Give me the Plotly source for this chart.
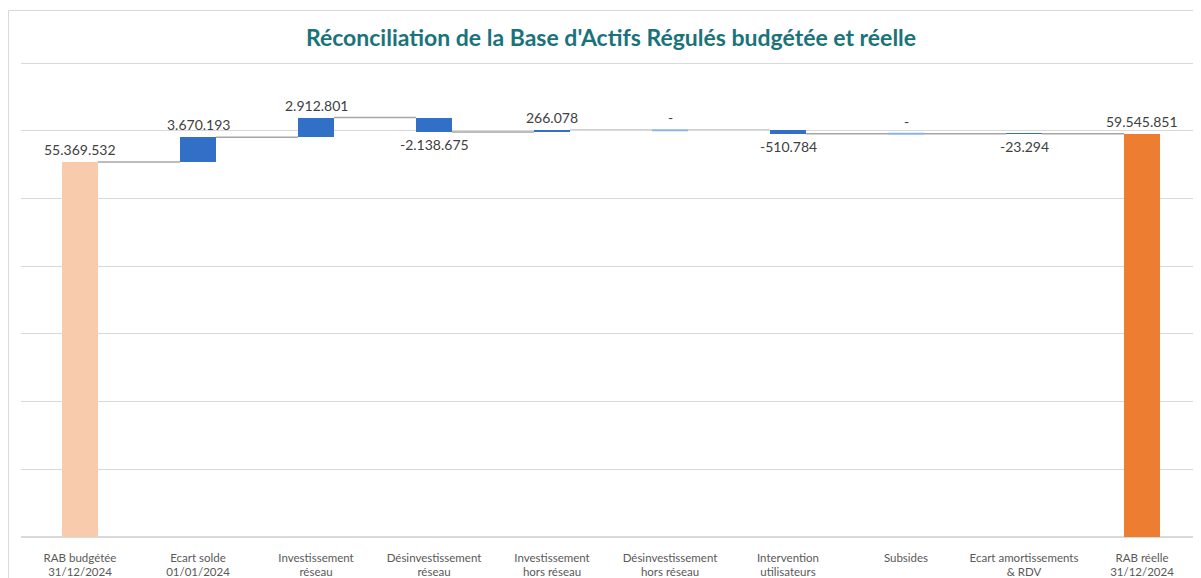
import plotly.graph_objects as go

categories = [
    "RAB budgétée<br>31/12/2024",
    "Ecart solde<br>01/01/2024",
    "Investissement<br>réseau",
    "Désinvestissement<br>réseau",
    "Investissement<br>hors réseau",
    "Désinvestissement<br>hors réseau",
    "Intervention<br>utilisateurs",
    "Subsides",
    "Ecart amortissements<br>& RDV",
    "RAB réelle<br>31/12/2024",
]
measures = ["absolute", "relative", "relative", "relative", "relative",
            "relative", "relative", "relative", "relative", "total"]
values = [55369532, 3670193, 2912801, -2138675, 266078, 0, -510784, 0, -23294, 59545851]

BLUE = "#3170C6"
LIGHTBLUE = "#8DB3E2"
PEACH = "#F8CBAD"
ORANGE = "#ED7D31"
GRID = "#D9D9D9"
CONN = "#A6A6A6"
TXT = "#404040"


def fmt(v):
    if v == 0:
        return "-"
    s = f"{abs(v):,}".replace(",", ".")
    return ("-" if v < 0 else "") + s


bases, heights, ends = [], [], []
running = 0
for m, v in zip(measures, values):
    if m == "absolute":
        bases.append(0); heights.append(v); running = v
    elif m == "total":
        bases.append(0); heights.append(running)
    else:
        bases.append(running); heights.append(v); running += v
    ends.append(running)

colors = [PEACH if m == "absolute" else ORANGE if m == "total" else BLUE for m in measures]

xs = list(range(len(categories)))
W = 0.305

# figure geometry (page body has an 8px margin)
FW, FH = 1193, 570
ML, MR, MT, MB = 13, 0, 54, 41
PW, PH = FW - ML - MR, FH - MT - MB

fig = go.Figure()
fig.add_trace(go.Bar(x=xs, y=heights, base=bases, width=W,
                     marker=dict(color=colors, line=dict(width=0)),
                     hoverinfo="skip", showlegend=False))

for i in range(len(xs) - 1):
    lvl = ends[i]
    fig.add_shape(type="line", xref="x", yref="y",
                  x0=xs[i] + W / 2, x1=xs[i + 1] - W / 2, y0=lvl, y1=lvl,
                  line=dict(color=CONN, width=1.5), layer="below")

for i, v in enumerate(values):
    if v == 0 and measures[i] == "relative":
        fig.add_shape(type="line", xref="x", yref="y",
                      x0=xs[i] - W / 2, x1=xs[i] + W / 2, y0=bases[i], y1=bases[i],
                      line=dict(color=LIGHTBLUE, width=2))

for i, v in enumerate(values):
    top = max(bases[i], bases[i] + heights[i])
    bot = min(bases[i], bases[i] + heights[i])
    if v < 0:
        fig.add_annotation(x=xs[i], y=bot, text=fmt(v), showarrow=False,
                           yanchor="top", yshift=-2,
                           font=dict(size=14, color=TXT, family="Lato"))
    else:
        fig.add_annotation(x=xs[i], y=top, text=fmt(v), showarrow=False,
                           yanchor="bottom", yshift=2,
                           font=dict(size=14, color=TXT, family="Lato"))

# chart frame
fig.add_shape(type="rect", xref="paper", yref="paper",
              x0=(0.5 - ML) / PW, x1=1.02,
              y0=-0.2, y1=(FH - MB - 2.5) / PH,
              line=dict(color="#D9D9D9", width=1), layer="below")

fig.update_layout(
    width=FW, height=FH,
    margin=dict(l=ML, r=MR, t=MT, b=MB),
    paper_bgcolor="white", plot_bgcolor="white",
    title=dict(text="<b>Réconciliation de la Base d'Actifs Régulés budgétée et réelle</b>",
               x=603 / FW, xanchor="center", y=1 - 30 / FH, yanchor="middle",
               font=dict(family="Lato", size=23, color="#1A737B")),
    bargap=0,
    xaxis=dict(tickmode="array", tickvals=xs, ticktext=categories,
               range=[-0.5, len(xs) - 0.5], showgrid=False, zeroline=False,
               showline=False, ticks="", ticklabelstandoff=12,
               tickfont=dict(family="Lato", size=11.5, color="#595959")),
    yaxis=dict(range=[0, 70.15e6], dtick=10e6, tick0=0, showgrid=True,
               gridcolor=GRID, gridwidth=1, showticklabels=False,
               zeroline=True, zerolinecolor=GRID, showline=False),
)

fig.write_html("out.html")
